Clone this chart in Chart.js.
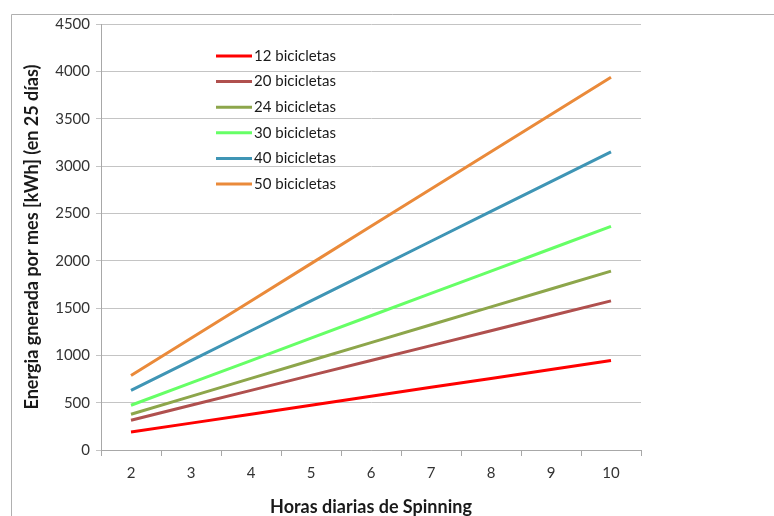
<!DOCTYPE html>
<html>
<head>
<meta charset="utf-8">
<script src="https://cdn.jsdelivr.net/npm/chart.js@4/dist/chart.umd.min.js"></script>
<style>
  html, body { margin: 0; padding: 0; background: #fff; }
  #wrap { width: 774px; height: 516px; }
</style>
</head>
<body>
<div id="wrap"><canvas id="c" width="774" height="516"></canvas></div>
<script>
// horas diarias de spinning
var horas = ['2', '3', '4', '5', '6', '7', '8', '9', '10'];

// energia generada por mes (kWh) para cada grupo de bicicletas
var bici12 = [189, 284, 378, 473, 567, 662, 756, 851, 945];
var bici20 = [315, 473, 630, 788, 945, 1103, 1260, 1418, 1575];
var bici24 = [378, 567, 756, 945, 1134, 1323, 1512, 1701, 1890];
var bici30 = [473, 709, 945, 1181, 1418, 1654, 1890, 2126, 2363];
var bici40 = [630, 945, 1260, 1575, 1890, 2205, 2520, 2835, 3150];
var bici50 = [788, 1181, 1575, 1969, 2363, 2756, 3150, 3544, 3938];

var etiquetas = ['12 bicicletas', '20 bicicletas', '24 bicicletas', '30 bicicletas', '40 bicicletas', '50 bicicletas'];
var colores = ['#ff0000', '#b0504e', '#8da64b', '#66ff66', '#3f95b5', '#ea8a3a'];
var series = [bici12, bici20, bici24, bici30, bici40, bici50];

var fuente = "Lato, 'Open Sans', 'Liberation Sans', sans-serif";

var datasets = [];
for (var i = 0; i < series.length; i++) {
	datasets.push({
		label: etiquetas[i],
		data: series[i],
		borderColor: colores[i],
		backgroundColor: colores[i],
		borderWidth: 3,
		pointRadius: 0,
		fill: false,
		tension: 0
	});
}

// marco gris del grafico + leyenda dentro del area
var marco = {
	id: 'marco',
	beforeDraw: function(chart) {
		var ctx = chart.ctx;
		ctx.save();
		ctx.fillStyle = '#fff';
		ctx.fillRect(0, 0, chart.width, chart.height);
		ctx.strokeStyle = '#b0b0b0';
		ctx.lineWidth = 1;
		ctx.beginPath();
		ctx.moveTo(11.5, chart.height);
		ctx.lineTo(11.5, 14.5);
		ctx.lineTo(chart.width, 14.5);
		ctx.stroke();
		ctx.restore();
	},
	afterDraw: function(chart) {
		var ctx = chart.ctx;
		ctx.save();
		ctx.font = '15px ' + fuente;
		ctx.textBaseline = 'middle';
		ctx.lineWidth = 3;
		var x = 216, y = 56;
		chart.data.datasets.forEach(function(ds, k) {
			var yy = y + k * 25.6;
			ctx.strokeStyle = ds.borderColor;
			ctx.beginPath();
			ctx.moveTo(x, yy);
			ctx.lineTo(x + 36, yy);
			ctx.stroke();
			ctx.fillStyle = '#1a1a1a';
			ctx.fillText(ds.label, x + 38, yy);
		});
		ctx.restore();
	}
};

new Chart(document.getElementById('c'), {
	type: 'line',
	data: { labels: horas, datasets: datasets },
	plugins: [marco],
	options: {
		responsive: false,
		animation: false,
		layout: { padding: { left: 17, top: 24, right: 133, bottom: 0 } },
		plugins: {
			legend: { display: false },
			tooltip: { enabled: false }
		},
		scales: {
			x: {
				type: 'category',
				offset: true,
				grid: { offset: true, drawOnChartArea: false, drawTicks: true, tickLength: 6, color: '#a8a8a8' },
				border: { color: '#a8a8a8' },
				ticks: { color: '#333', font: { size: 15, family: fuente }, padding: 8 },
				title: { display: true, text: 'Horas diarias de Spinning', color: '#1a1a1a',
					font: { size: 18, weight: 'bold', family: fuente }, padding: { top: 4, bottom: -2 } },
				afterFit: function(s) { s.height = 66; }
			},
			y: {
				min: 0,
				max: 4500,
				ticks: { stepSize: 500, color: '#333', font: { size: 15, family: fuente }, padding: 6,
					callback: function(v) { return String(v); } },
				grid: { color: '#c4c4c4', tickLength: 5 },
				border: { color: '#a8a8a8' },
				title: { display: true, text: 'Energia gnerada por mes [kWh] (en 25 días)', color: '#1a1a1a',
					font: { size: 18, weight: 'bold', family: fuente }, padding: { bottom: 4 } },
				afterFit: function(s) { s.width = 84; }
			}
		}
	}
});
</script>
</body>
</html>
